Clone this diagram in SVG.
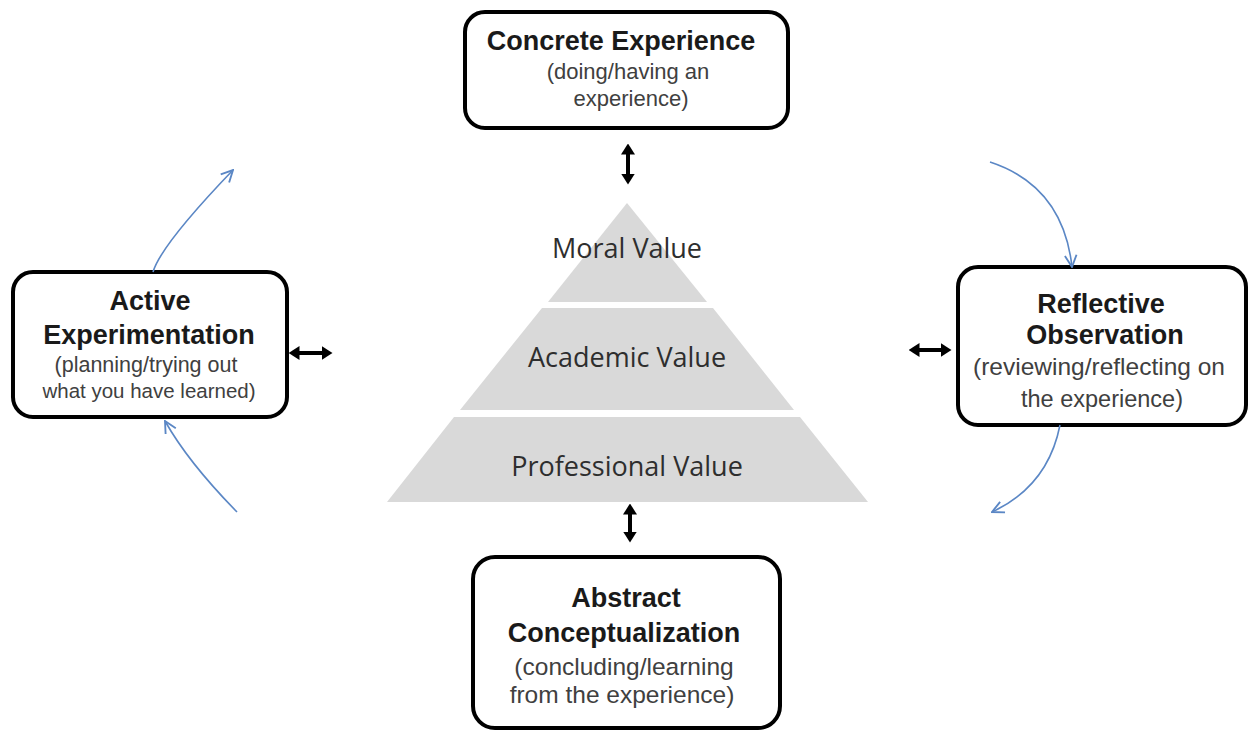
<svg xmlns="http://www.w3.org/2000/svg" width="1249" height="735" viewBox="0 0 1249 735">
<defs>
<style>
.box{fill:#fff;stroke:#000;stroke-width:4}
.t{font-family:"Liberation Sans",Arial,sans-serif;font-weight:700;font-size:27px;fill:#1a1a1a;text-anchor:middle}
.s{font-family:"Liberation Sans",Arial,sans-serif;font-size:22px;fill:#404040;text-anchor:middle}
.p{font-family:"Open Sans","Liberation Sans",sans-serif;font-size:27px;fill:#2e2e2e;text-anchor:middle}
.tier{fill:#d9d9d9}
.blue{fill:none;stroke:#5b87c5;stroke-width:1.6;marker-end:url(#open)}
.dbl{stroke:#000;stroke-width:4;marker-start:url(#solid);marker-end:url(#solid)}
</style>
<marker id="open" viewBox="0 0 12 12" refX="11" refY="6" markerWidth="14" markerHeight="14" markerUnits="userSpaceOnUse" orient="auto">
<path d="M1,1 L11,6 L1,11" fill="none" stroke="#5b87c5" stroke-width="1.6"/>
</marker>
<marker id="solid" viewBox="0 0 11 14" refX="0.5" refY="7" markerWidth="11" markerHeight="14" markerUnits="userSpaceOnUse" orient="auto-start-reverse">
<path d="M0,0 L11,7 L0,14 Z" fill="#000"/>
</marker>
</defs>
<rect width="1249" height="735" fill="#fff"/>

<g id="pyramid">
<polygon class="tier" points="627,203 707,302 548,302"/>
<polygon class="tier" points="542,308 713,308 794,410 460,410"/>
<polygon class="tier" points="454,417 800,417 868,502 387,502"/>
<text class="p" x="627" y="258">Moral Value</text>
<text class="p" x="627" y="367">Academic Value</text>
<text class="p" x="627" y="476">Professional Value</text>
</g>

<g id="concrete">
<rect class="box" x="465" y="12" width="323" height="116" rx="20"/>
<text class="t" x="621" y="50">Concrete Experience</text>
<text class="s" x="628" y="79">(doing/having an</text>
<text class="s" x="631" y="106">experience)</text>
</g>

<g id="active">
<rect class="box" x="13" y="272" width="274" height="145" rx="20"/>
<text class="t" x="150" y="310">Active</text>
<text class="t" x="149" y="344">Experimentation</text>
<text class="s" x="146" y="372" style="font-size:21.5px">(planning/trying out</text>
<text class="s" x="149" y="398" style="font-size:20.5px">what you have learned)</text>
</g>

<g id="reflective">
<rect class="box" x="958" y="267" width="288" height="158" rx="20"/>
<text class="t" x="1101" y="313">Reflective</text>
<text class="t" x="1105" y="344">Observation</text>
<text class="s" x="1099" y="375" style="font-size:24.5px">(reviewing/reflecting on</text>
<text class="s" x="1102" y="407" style="font-size:23.5px">the experience)</text>
</g>

<g id="abstract">
<rect class="box" x="473" y="557" width="307" height="171" rx="22"/>
<text class="t" x="626" y="607">Abstract</text>
<text class="t" x="624" y="642">Conceptualization</text>
<text class="s" x="624" y="675" style="font-size:24.5px">(concluding/learning</text>
<text class="s" x="622" y="703" style="font-size:24.5px">from the experience)</text>
</g>

<g id="connectors">
<line class="dbl" x1="628" y1="154" x2="628" y2="174"/>
<line class="dbl" x1="630" y1="514" x2="630" y2="532"/>
<line class="dbl" x1="299" y1="353" x2="322" y2="353"/>
<line class="dbl" x1="919" y1="350" x2="941" y2="350"/>
<path class="blue" d="M153,272 Q161,245 233,170"/>
<path class="blue" d="M237,512 Q188,462 165,421"/>
<path class="blue" d="M990,162 Q1063,186 1072,267"/>
<path class="blue" d="M1060,425 Q1048,486 992,512"/>
</g>
</svg>
